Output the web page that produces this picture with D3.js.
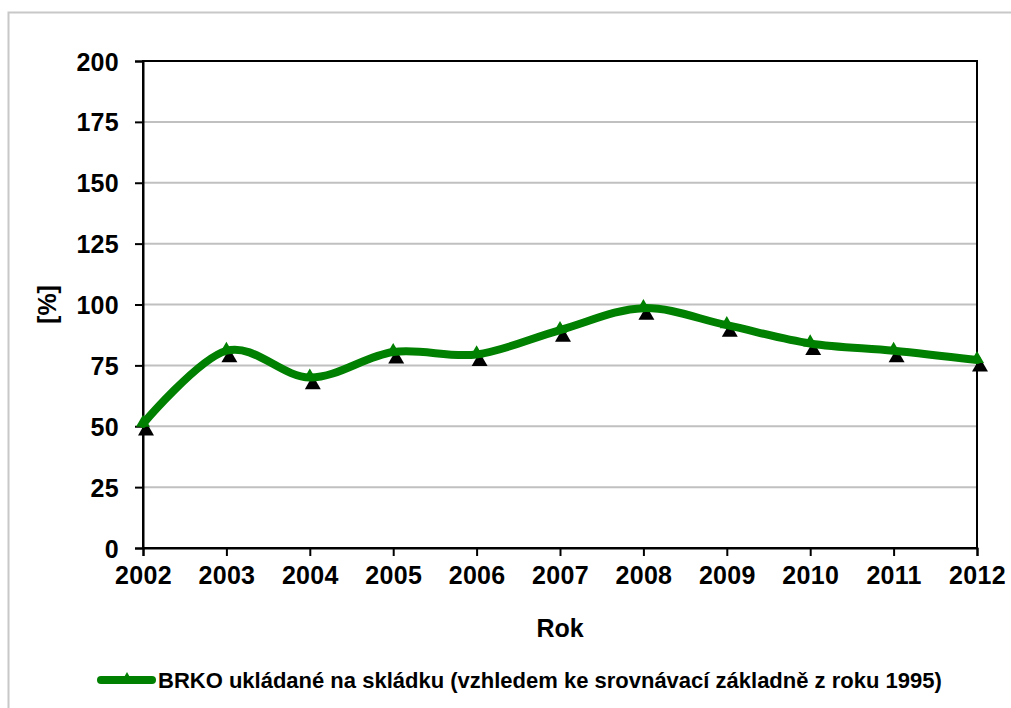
<!DOCTYPE html>
<html><head><meta charset="utf-8">
<script src="https://cdn.jsdelivr.net/npm/d3@7"></script>
<style>body{margin:0;background:#fff}svg{display:block}text{font-family:"Liberation Sans",Arial,sans-serif;font-weight:bold;fill:#000}</style>
</head><body><svg id="c" width="1011" height="708"></svg>
<script>
const years = [2002,2003,2004,2005,2006,2007,2008,2009,2010,2011,2012];
const values = [51,81,70,80.5,79.5,89.5,98.5,91.5,84,81,77.2];
const yTicks = [0,25,50,75,100,125,150,175,200];
const seriesName = "BRKO ukládané na skládku (vzhledem ke srovnávací základně z roku 1995)";
const xTitle = "Rok", yTitle = "[%]";

const svg = d3.select("#c");
const L=143, R=977, T=61, B=548;
svg.append("rect").attr("x",8.5).attr("y",12.5).attr("width",1100).attr("height",800).attr("fill","none").attr("stroke","#c8c8c8").attr("stroke-width",2);
const x = d3.scalePoint().domain(years).range([L,R]);
const y = d3.scaleLinear().domain([0,200]).range([B,T]);

svg.append("g").selectAll("line").data(yTicks.filter(d=>d>0&&d<200)).join("line")
 .attr("x1",L).attr("x2",R).attr("y1",d=>y(d)).attr("y2",d=>y(d)).attr("stroke","#c0c0c0").attr("stroke-width",2);
svg.append("rect").attr("x",L).attr("y",T).attr("width",R-L).attr("height",B-T).attr("fill","none").attr("stroke","#000").attr("stroke-width",2);

const ya = svg.append("g").attr("transform",`translate(${L},0)`).call(d3.axisLeft(y).tickValues(yTicks).tickSize(8).tickPadding(16));
ya.select(".domain").attr("stroke","#000").attr("stroke-width",2);
ya.selectAll(".tick line").attr("stroke","#000").attr("stroke-width",2);
const xa = svg.append("g").attr("transform",`translate(0,${B})`).call(d3.axisBottom(x).tickSize(8).tickPadding(10));
xa.select(".domain").attr("stroke","#000").attr("stroke-width",2);
xa.selectAll(".tick line").attr("stroke","#000").attr("stroke-width",2);
svg.selectAll(".tick text").attr("font-size",null).attr("font-family",null)
  .style("font-family","'Liberation Sans',Arial,sans-serif").style("font-weight","bold").style("font-size","25px").style("letter-spacing","0.3px");
ya.selectAll(".tick text").attr("dy","0.36em");

svg.append("text").attr("x",(L+R)/2).attr("y",637).attr("text-anchor","middle").attr("font-size",25).text(xTitle);
svg.append("text").attr("transform",`translate(56,${(T+B)/2}) rotate(-90)`).attr("text-anchor","middle").attr("font-size",25).text(yTitle);

const pts = years.map((d,i)=>[x(d),y(values[i])]);
svg.append("g").selectAll("path").data(pts).join("path").attr("d",d3.symbol().type(d3.symbolTriangle).size(110)).attr("transform",d=>`translate(${d[0]+3},${d[1]+7})`).attr("fill","#000");
svg.append("path").attr("d",d3.line().curve(d3.curveCatmullRom.alpha(0))(pts)).attr("fill","none").attr("stroke","#008000").attr("stroke-width",8).attr("stroke-linecap","round");
svg.append("g").selectAll("path").data(pts).join("path").attr("d",d3.symbol().type(d3.symbolTriangle).size(85)).attr("transform",d=>`translate(${d[0]},${d[1]-1})`).attr("fill","#008000");

const lg = svg.append("g");
lg.append("line").attr("x1",101).attr("x2",152).attr("y1",680).attr("y2",680).attr("stroke","#008000").attr("stroke-width",8).attr("stroke-linecap","round");
lg.append("path").attr("d",d3.symbol().type(d3.symbolTriangle).size(45)).attr("transform","translate(127,678)").attr("fill","#008000");
lg.append("text").attr("x",158).attr("y",688).attr("font-size",22).text(seriesName);
</script></body></html>
